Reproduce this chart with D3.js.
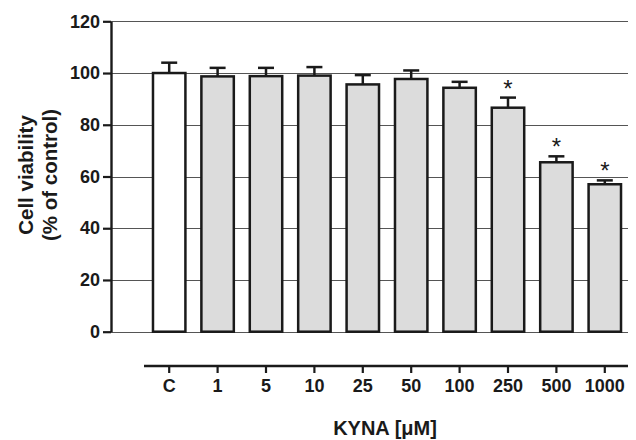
<!DOCTYPE html>
<html>
<head>
<meta charset="utf-8">
<script src="https://cdn.jsdelivr.net/npm/d3@7"></script>
<style>
  body { margin: 0; background: #fff; }
  svg { display: block; font-family: "Liberation Sans", Arial, sans-serif; }
</style>
</head>
<body>
<svg id="chart" width="636" height="440"></svg>
<script>
// data
const categories = ["C", "1", "5", "10", "25", "50", "100", "250", "500", "1000"];
const viability  = [100, 98.7, 98.8, 99, 95.6, 97.7, 94.3, 86.6, 65.5, 57];
const errUpper   = [104, 102, 102, 102.3, 99.2, 101, 96.6, 90.5, 67.8, 58.5];
const significant = [false, false, false, false, false, false, false, true, true, true];
const yTicks = [0, 20, 40, 60, 80, 100, 120];

const data = categories.map(function (c, i) {
  return { cat: c, value: viability[i], err: errUpper[i], star: significant[i], control: i === 0 };
});

let chart = d3.select("#chart");

// y scale
let y = d3.scaleLinear()
    .domain([0, 120])
    .range([331.7, 21.3]);

// x band scale
let x = d3.scaleBand()
    .domain(categories)
    .range([145, 629])
    .paddingInner(0.33)
    .paddingOuter(0.165);

// grid lines
chart.append("g")
    .selectAll("line")
    .data(yTicks).enter()
    .append("line")
    .attr("x1", 111)
    .attr("x2", 628)
    .attr("y1", function (d) { return Math.round(y(d)) + 0.5; })
    .attr("y2", function (d) { return Math.round(y(d)) + 0.5; })
    .attr("stroke", "#555")
    .attr("stroke-width", 1.2);

// bars
chart.append("g")
    .selectAll("rect")
    .data(data).enter()
    .append("rect")
    .attr("x", function (d) { return x(d.cat); })
    .attr("width", x.bandwidth())
    .attr("y", function (d) { return y(d.value); })
    .attr("height", function (d) { return y(0) - y(d.value); })
    .attr("fill", function (d) { return d.control ? "#ffffff" : "#dcdcdc"; })
    .attr("stroke", "#1a1a1a")
    .attr("stroke-width", 2.5);

// error bars
let errs = chart.append("g")
    .attr("stroke", "#1a1a1a")
    .attr("stroke-width", 2.5);
errs.selectAll("line.stem")
    .data(data).enter()
    .append("line")
    .attr("class", "stem")
    .attr("x1", function (d) { return x(d.cat) + x.bandwidth() / 2; })
    .attr("x2", function (d) { return x(d.cat) + x.bandwidth() / 2; })
    .attr("y1", function (d) { return y(d.value); })
    .attr("y2", function (d) { return y(d.err); });
errs.selectAll("line.cap")
    .data(data).enter()
    .append("line")
    .attr("class", "cap")
    .attr("x1", function (d) { return x(d.cat) + x.bandwidth() / 2 - 8; })
    .attr("x2", function (d) { return x(d.cat) + x.bandwidth() / 2 + 8; })
    .attr("y1", function (d) { return y(d.err); })
    .attr("y2", function (d) { return y(d.err); });

// significance stars
chart.append("g")
    .selectAll("text")
    .data(data.filter(function (d) { return d.star; })).enter()
    .append("text")
    .text("*")
    .attr("x", function (d) { return x(d.cat) + x.bandwidth() / 2; })
    .attr("y", function (d) { return y(d.err) - 1; })
    .attr("text-anchor", "middle")
    .attr("font-size", 24)
    .attr("fill", "#1a1a1a");

// y axis
let yAxis = d3.axisLeft(y)
    .tickValues(yTicks)
    .tickSizeInner(8)
    .tickSizeOuter(0)
    .tickPadding(3);
let yAxisGroup = chart.append("g")
    .attr("transform", "translate(111,0)")
    .call(yAxis);
yAxisGroup.select(".domain").attr("stroke", "#1a1a1a").attr("stroke-width", 2.4);
yAxisGroup.selectAll(".tick line").attr("stroke", "#1a1a1a").attr("stroke-width", 2.2);
yAxisGroup.selectAll(".tick text")
    .attr("font-size", 18)
    .attr("font-weight", "bold")
    .attr("font-family", "Liberation Sans, Arial, sans-serif")
    .attr("fill", "#1a1a1a");

// detached x axis
let xAxis = d3.axisBottom(x)
    .tickSizeInner(7)
    .tickSizeOuter(0)
    .tickPadding(6);
let xAxisGroup = chart.append("g")
    .attr("transform", "translate(0,366)")
    .call(xAxis);
xAxisGroup.select(".domain")
    .attr("d", "M144,0H628")
    .attr("stroke", "#1a1a1a")
    .attr("stroke-width", 2.5);
xAxisGroup.selectAll(".tick line").attr("stroke", "#1a1a1a").attr("stroke-width", 2.2);
xAxisGroup.selectAll(".tick text")
    .attr("font-size", 18)
    .attr("font-weight", "bold")
    .attr("font-family", "Liberation Sans, Arial, sans-serif")
    .attr("fill", "#1a1a1a");

// x axis label
chart.append("text")
    .text("KYNA [\u03bcM]")
    .attr("x", 385)
    .attr("y", 435)
    .attr("text-anchor", "middle")
    .attr("font-size", 20)
    .attr("font-weight", "bold")
    .attr("fill", "#1a1a1a");

// y axis label
let yLabel = chart.append("text")
    .attr("transform", "translate(0,175) rotate(-90)")
    .attr("text-anchor", "middle")
    .attr("font-size", 20.5)
    .attr("font-weight", "bold")
    .attr("fill", "#1a1a1a");
yLabel.append("tspan").attr("x", 0).attr("y", 32.5).text("Cell viability");
yLabel.append("tspan").attr("x", 0).attr("y", 56.5).text("(% of control)");
</script>
</body>
</html>
